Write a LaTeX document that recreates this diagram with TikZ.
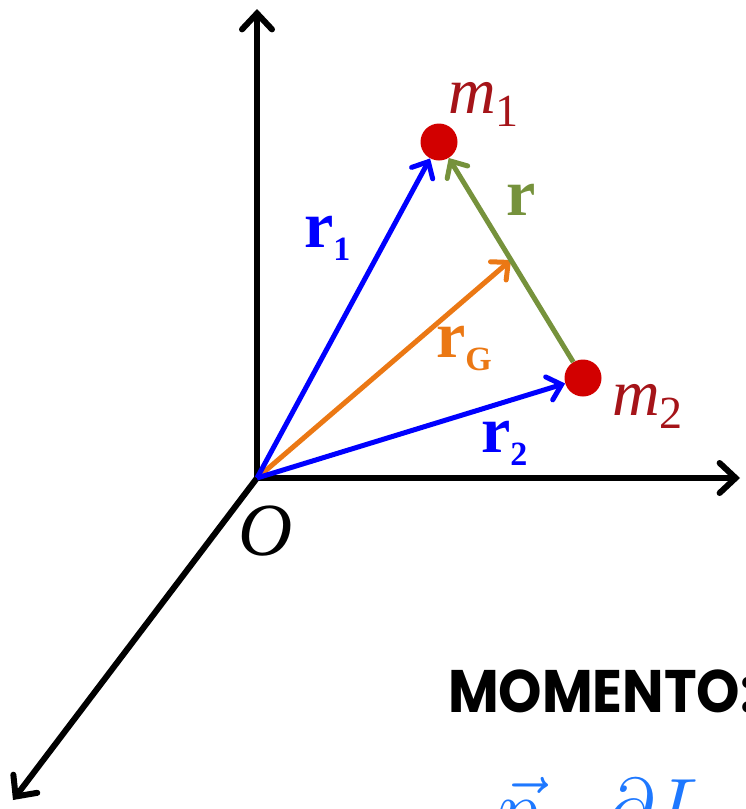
\documentclass[tikz,border=0pt]{standalone}
\usepackage{graphicx}
\usepackage{fontspec}
\setmainfont{Liberation Serif}
\newfontfamily\handfont{Poppins}
\usetikzlibrary{arrows.meta,calc}

\definecolor{vecblue}{RGB}{0,0,255}
\definecolor{cmorange}{RGB}{235,120,20}
\definecolor{relgreen}{RGB}{118,146,60}
\definecolor{massred}{RGB}{210,0,0}
\definecolor{labred}{RGB}{165,20,25}
\definecolor{inkblue}{RGB}{30,120,255}

\newcommand{\lowidx}[2][34]{\raisebox{-0.2em}{\fontsize{#1}{#1}\selectfont #2}}

\tikzset{
  axis/.style={line width=6pt, -{Straight Barb[length=16pt,width=30pt,line cap=round]}},
  vecarrow/.style={line width=5pt, -{Straight Barb[length=13pt,width=24pt,line cap=round]}},
  mass/.style={circle, fill=massred, inner sep=0pt, minimum size=37pt},
  lbl/.style={font=\fontsize{66}{66}\selectfont, inner sep=0pt, anchor=base west},
}

\begin{document}
\begin{tikzpicture}[x=1pt, y=-1pt]
  \useasboundingbox (0,0) rectangle (746,809);

  \coordinate (O) at (257,478);
  \coordinate (ytip) at (257,9);
  \coordinate (xtip) at (740,478);
  \coordinate (ztip) at (13,800);

  \node [mass] (m1) at (439,142) {};
  \node [mass] (m2) at (583,378) {};
  \coordinate (G) at ($(m1)!0.5!(m2)$);

  % axes
  \draw [axis] (O) -- (ytip);
  \draw [axis] (O) -- (xtip);
  \draw [axis] (O) -- (ztip);

  % vectors
  \draw [vecarrow, cmorange] (O) -- (G);
  \draw [vecarrow, vecblue] (O) -- (m1);
  \draw [vecarrow, vecblue] (O) -- (m2);
  \draw [vecarrow, relgreen] (m2) -- (m1);

  % labels
  \node [lbl, vecblue] (r1lbl) at (304,247) {\textbf{r}\lowidx{\textbf{1}}};
  \node [lbl, vecblue] (r2lbl) at (481,452) {\textbf{r}\lowidx{\textbf{2}}};
  \node [lbl, cmorange] (rGlbl) at (436,357) {\textbf{r}\lowidx{\textbf{G}}};
  \node [lbl, relgreen] (rlbl) at (506,215) {\textbf{r}};
  \node [lbl, labred] (m1lbl) at (448,113) {\textit{m}\lowidx[46]{1}};
  \node [lbl, labred] (m2lbl) at (612,415) {\textit{m}\lowidx[46]{2}};
  \node [lbl, font=\fontsize{75}{75}\selectfont] (Olbl) at (238,555) {\textit{O}};

  % handwritten notes
  \node [lbl, font=\handfont\bfseries\fontsize{60}{60}\selectfont, xscale=0.92] (note) at (448,712) {MOMENTO:};
  \node [lbl, inkblue, font=\fontsize{20}{20}\selectfont] (formula) at (497,836) {\scalebox{4}{$\vec{p}\;\;\;\partial L$}};
\end{tikzpicture}
\end{document}
